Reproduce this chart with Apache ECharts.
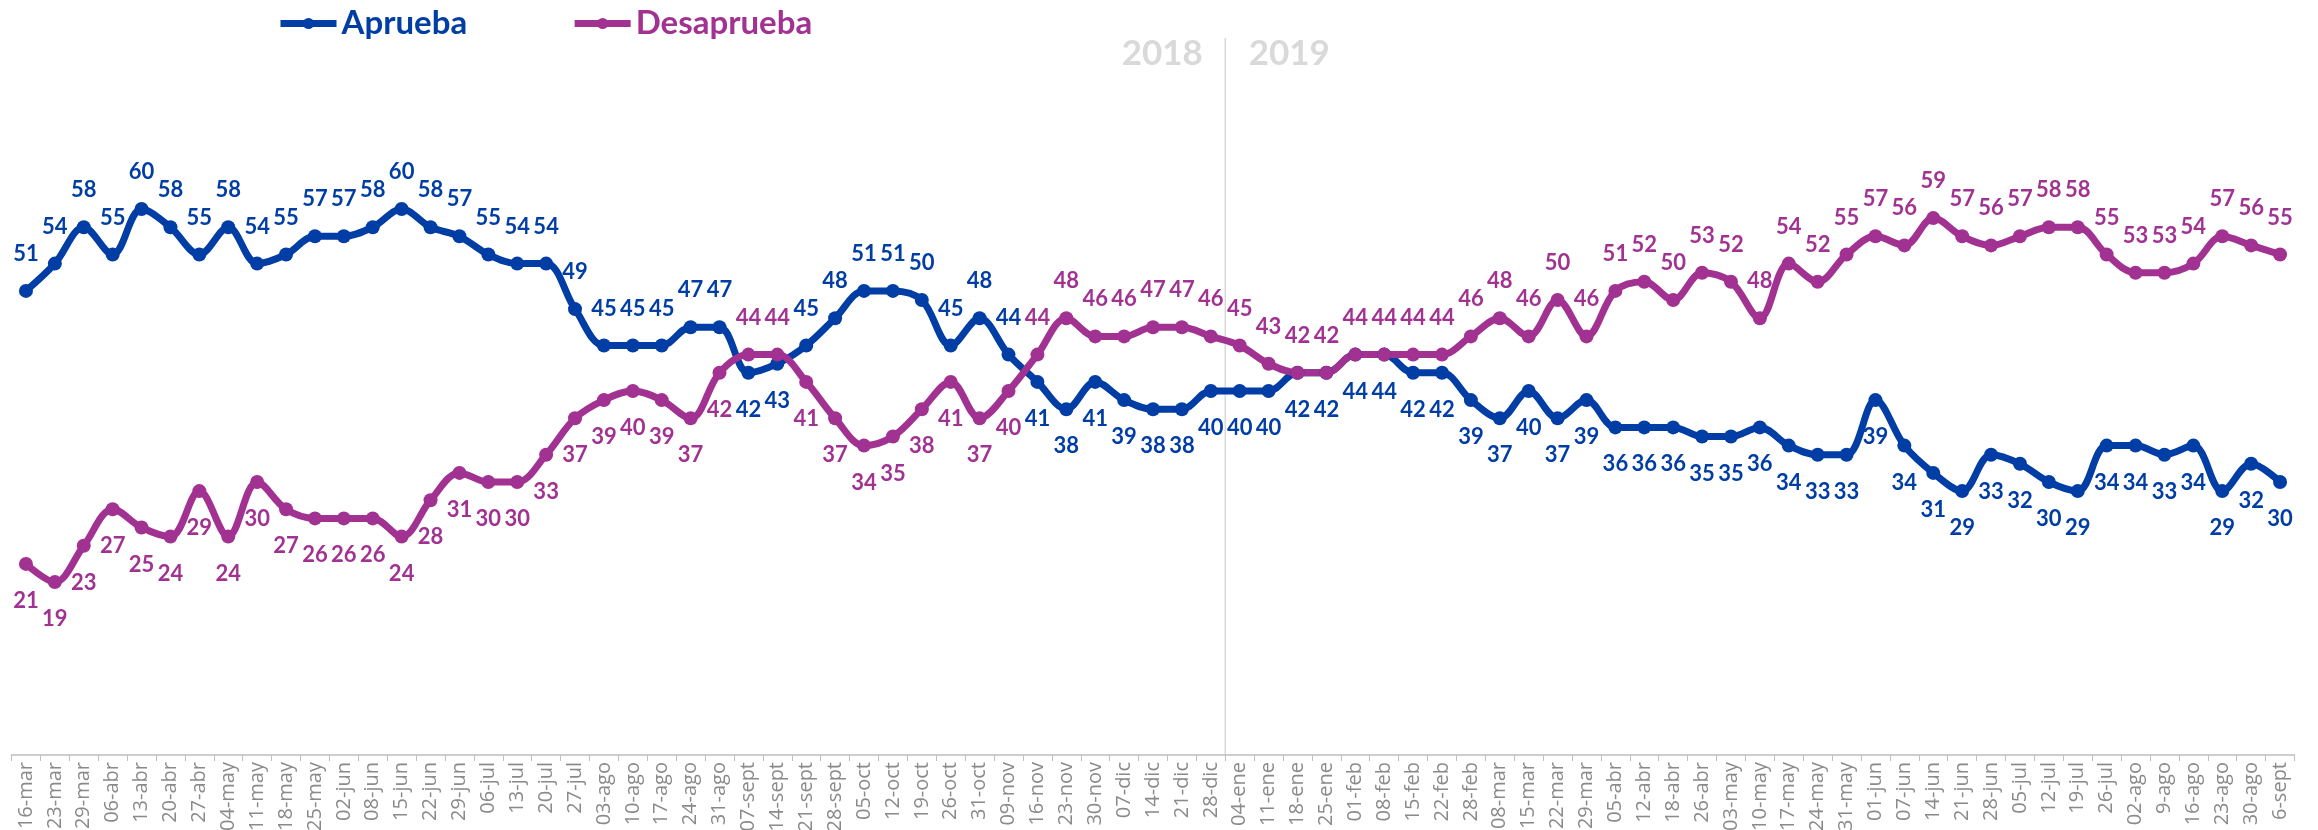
<!DOCTYPE html>
<html>
<head>
<meta charset="utf-8">
<title>Aprueba / Desaprueba</title>
<script src="https://cdn.jsdelivr.net/npm/echarts@6.0.0/dist/echarts.min.js"></script>
<style>
  html, body { margin: 0; padding: 0; background: #fff; }
  #chart { width: 2318px; height: 830px; }
</style>
</head>
<body>
<div id="chart"></div>
<script>
// fechas de medición (2018 -> 2019)
const fechas = [
  '16-mar', '23-mar', '29-mar', '06-abr', '13-abr', '20-abr', '27-abr', '04-may', '11-may', '18-may',
  '25-may', '02-jun', '08-jun', '15-jun', '22-jun', '29-jun', '06-jul', '13-jul', '20-jul', '27-jul',
  '03-ago', '10-ago', '17-ago', '24-ago', '31-ago', '07-sept', '14-sept', '21-sept', '28-sept', '05-oct',
  '12-oct', '19-oct', '26-oct', '31-oct', '09-nov', '16-nov', '23-nov', '30-nov', '07-dic', '14-dic',
  '21-dic', '28-dic', '04-ene', '11-ene', '18-ene', '25-ene', '01-feb', '08-feb', '15-feb', '22-feb',
  '28-feb', '08-mar', '15-mar', '22-mar', '29-mar', '05-abr', '12-abr', '18-abr', '26-abr', '03-may',
  '10-may', '17-may', '24-may', '31-may', '01-jun', '07-jun', '14-jun', '21-jun', '28-jun', '05-jul',
  '12-jul', '19-jul', '26-jul', '02-ago', '9-ago', '16-ago', '23-ago', '30-ago', '6-sept'
];

const aprueba = [
  51, 54, 58, 55, 60, 58, 55, 58, 54, 55,
  57, 57, 58, 60, 58, 57, 55, 54, 54, 49,
  45, 45, 45, 47, 47, 42, 43, 45, 48, 51,
  51, 50, 45, 48, 44, 41, 38, 41, 39, 38,
  38, 40, 40, 40, 42, 42, 44, 44, 42, 42,
  39, 37, 40, 37, 39, 36, 36, 36, 35, 35,
  36, 34, 33, 33, 39, 34, 31, 29, 33, 32,
  30, 29, 34, 34, 33, 34, 29, 32, 30
];

const desaprueba = [
  21, 19, 23, 27, 25, 24, 29, 24, 30, 27,
  26, 26, 26, 24, 28, 31, 30, 30, 33, 37,
  39, 40, 39, 37, 42, 44, 44, 41, 37, 34,
  35, 38, 41, 37, 40, 44, 48, 46, 46, 47,
  47, 46, 45, 43, 42, 42, 44, 44, 44, 44,
  46, 48, 46, 50, 46, 51, 52, 50, 53, 52,
  48, 54, 52, 55, 57, 56, 59, 57, 56, 57,
  58, 58, 55, 53, 53, 54, 57, 56, 55
];

const anios = ['2018', '2019'];
const inicio2019 = 42; // índice de '04-ene'

const AZUL = '#003DA5';
const MORADO = '#A13292';

// la etiqueta va arriba en la serie que está más alta (empate -> Desaprueba arriba)
const conEtiquetas = (vals, otra, esDesaprueba) => vals.map((v, i) => {
  const arriba = esDesaprueba ? v >= otra[i] : v > otra[i];
  return { value: v, label: { position: arriba ? 'top' : 'bottom' } };
});

const serie = (nombre, datos, color) => ({
  name: nombre,
  type: 'line',
  smooth: 0.35,
  symbol: 'circle',
  symbolSize: 14,
  data: datos,
  lineStyle: { width: 7, color: color },
  itemStyle: { color: color },
  label: {
    show: true,
    distance: 19,
    color: color,
    fontFamily: 'Lato',
    fontWeight: 'bold',
    fontSize: 22
  }
});

const chart = echarts.init(document.getElementById('chart'));

chart.setOption({
  animation: false,
  backgroundColor: '#fff',
  legend: {
    left: 272,
    top: 2,
    itemWidth: 56,
    itemHeight: 14,
    itemGap: 104,
    lineStyle: { width: 7 },
    textStyle: { fontFamily: 'Lato', fontWeight: 'bold', fontSize: 33 },
    data: [
      { name: 'Aprueba', textStyle: { color: AZUL } },
      { name: 'Desaprueba', textStyle: { color: MORADO } }
    ]
  },
  grid: {
    left: 11.5,
    right: 23.5,
    top: 27,
    bottom: 75,
    outerBoundsMode: 'none'
  },
  xAxis: {
    type: 'category',
    data: fechas,
    boundaryGap: true,
    axisLine: { lineStyle: { color: '#bfbfbf', width: 1.5 } },
    axisTick: { show: true, interval: 0, length: 6, lineStyle: { color: '#bfbfbf' } },
    axisLabel: {
      interval: 0,
      rotate: 90,
      margin: 7,
      fontSize: 20,
      fontFamily: 'Open Sans',
      color: '#8a8a8a'
    },
    splitLine: { show: false }
  },
  yAxis: {
    type: 'value',
    min: 0,
    max: 80,
    show: false
  },
  series: [
    serie('Aprueba', conEtiquetas(aprueba, desaprueba, false), AZUL),
    serie('Desaprueba', conEtiquetas(desaprueba, aprueba, true), MORADO)
  ]
});

// línea divisoria entre años y sus rótulos
const xa = chart.convertToPixel({ xAxisIndex: 0 }, fechas[inicio2019 - 1]);
const xb = chart.convertToPixel({ xAxisIndex: 0 }, fechas[inicio2019]);
const xCorte = (xa + xb) / 2;
const yBase = chart.convertToPixel({ yAxisIndex: 0 }, 0);

chart.setOption({
  graphic: [
    {
      type: 'line',
      silent: true,
      z: 0,
      shape: { x1: xCorte, y1: 38, x2: xCorte, y2: yBase },
      style: { stroke: '#d9d9d9', lineWidth: 1.5 }
    }
  ].concat(anios.map((a, k) => ({
    type: 'text',
    x: xCorte + (k === 0 ? -63 : 64),
    y: 54,
    style: {
      text: a,
      align: 'center',
      verticalAlign: 'middle',
      fill: '#d9d9d9',
      fontFamily: 'Lato',
      fontWeight: 'bold',
      fontSize: 35
    }
  })))
});

window.addEventListener('resize', () => chart.resize());
</script>
</body>
</html>
